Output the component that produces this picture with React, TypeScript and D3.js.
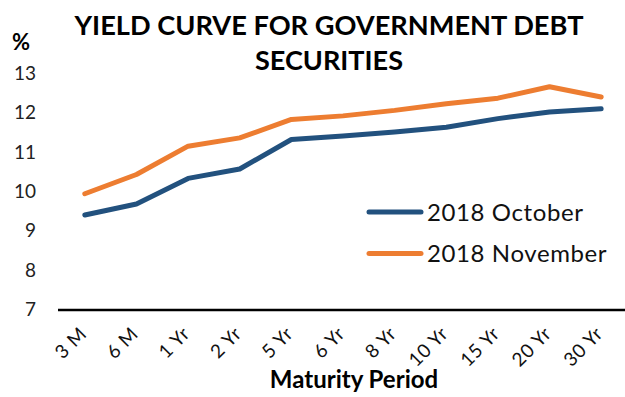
import React from "react";
import * as d3 from "d3";

const categories = ["3 M", "6 M", "1 Yr", "2 Yr", "5 Yr", "6 Yr", "8 Yr", "10 Yr", "15 Yr", "20 Yr", "30 Yr"];
const october = [9.39, 9.67, 10.32, 10.56, 11.31, 11.4, 11.5, 11.62, 11.84, 12.01, 12.09];
const november = [9.93, 10.42, 11.14, 11.35, 11.82, 11.91, 12.05, 12.22, 12.36, 12.65, 12.39];
const yTicks = [7, 8, 9, 10, 11, 12, 13];
const seriesNames = ["2018 October", "2018 November"];
const colors = ["#22517E", "#ED7D31"];

const W = 625;
const H = 397;
const FONT = "'Century Gothic', Lato, 'DejaVu Sans', sans-serif";

export default function App() {
  const x = d3.scaleBand<string>().domain(categories).range([59, 627]);
  const y = d3.scaleLinear().domain([7, 13]).range([309, 73]);
  const cx = (c: string) => (x(c) as number) + x.bandwidth() / 2;
  const line = d3
    .line<number>()
    .x((_, i) => cx(categories[i]))
    .y((d) => y(d))
    .curve(d3.curveLinear);
  const series = [october, november];

  return (
    <svg
      width={W}
      height={H}
      style={{ position: "absolute", left: 0, top: 0, background: "#fff" }}
    >
      <rect width={W} height={H} fill="#fff" />
      <text
        x={329}
        y={35}
        textAnchor="middle"
        fontFamily={FONT}
        fontWeight="bold"
        fontSize={27}
        textLength={509}
        lengthAdjust="spacingAndGlyphs"
        fill="#000"
      >
        YIELD CURVE FOR GOVERNMENT DEBT
      </text>
      <text
        x={329}
        y={70}
        textAnchor="middle"
        fontFamily={FONT}
        fontWeight="bold"
        fontSize={27}
        textLength={148}
        lengthAdjust="spacingAndGlyphs"
        fill="#000"
      >
        SECURITIES
      </text>
      <text x={12} y={50} fontFamily={FONT} fontWeight="bold" fontSize={22} fill="#000">
        %
      </text>
      {yTicks.map((t) => (
        <text
          key={t}
          x={36}
          y={y(t)}
          dy="0.36em"
          textAnchor="end"
          fontFamily={FONT}
          fontSize={19}
          fill="#222"
        >
          {t}
        </text>
      ))}
      <line x1={58} x2={627} y1={y(7) + 1} y2={y(7) + 1} stroke="#000" strokeWidth={2.5} />
      {categories.map((c) => (
        <text
          key={c}
          transform={`translate(${cx(c) + 3},${335}) rotate(-45)`}
          textAnchor="end"
          fontFamily={FONT}
          fontSize={19}
          letterSpacing={0.6}
          fill="#111"
        >
          {c}
        </text>
      ))}
      <text
        x={354}
        y={388}
        textAnchor="middle"
        fontFamily={FONT}
        fontWeight="bold"
        fontSize={24}
        fill="#000"
      >
        Maturity Period
      </text>
      {series.map((s, i) => (
        <path
          key={i}
          d={line(s) as string}
          fill="none"
          stroke={colors[i]}
          strokeWidth={5}
          strokeLinejoin="round"
          strokeLinecap="round"
        />
      ))}
      {seriesNames.map((n, i) => {
        const ly = 212 + i * 41.5;
        return (
          <g key={n}>
            <line x1={369} x2={421} y1={ly} y2={ly} stroke={colors[i]} strokeWidth={5} strokeLinecap="round" />
            <text x={427} y={ly} dy="0.36em" fontFamily={FONT} fontSize={24} letterSpacing={0.6} fill="#111">
              {n}
            </text>
          </g>
        );
      })}
    </svg>
  );
}
